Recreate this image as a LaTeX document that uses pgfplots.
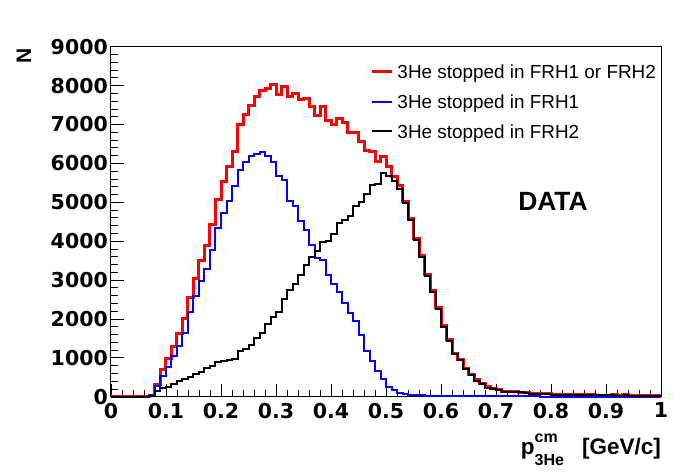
\documentclass[border=0pt]{standalone}
\usepackage{pgfplots}
\usepackage{pgfplotstable}
\pgfplotsset{compat=1.18}
\usepackage{fontspec}
\setmainfont{Liberation Sans}
\newfontfamily\dejavu{DejaVu Sans}

\pgfplotstableread{
x red blue black
0.00 0 0 0
0.01 0 0 0
0.02 0 0 0
0.03 0 0 0
0.04 0 0 0
0.05 0 0 0
0.06 0 0 0
0.07 40 50 25
0.08 326 275 150
0.09 704 540 215
0.10 987 773 250
0.11 1288 1047 326
0.12 1623 1313 412
0.13 2009 1631 450
0.14 2558 2189 500
0.15 3048 2601 580
0.16 3490 2988 640
0.17 3880 3279 750
0.18 4438 3777 800
0.19 5082 4335 890
0.20 5537 4722 930
0.21 5924 5022 950
0.22 6310 5409 960
0.23 6997 5838 1185
0.24 7254 6027 1228
0.25 7486 6181 1331
0.26 7727 6250 1502
0.27 7881 6284 1648
0.28 7915 6198 1863
0.29 8027 6027 2043
0.30 7769 5666 2189
0.31 7984 5560 2525
0.32 7727 5030 2748
0.33 7795 4905 2898
0.34 7640 4530 3134
0.35 7658 4293 3391
0.36 7452 3900 3598
0.37 7228 3570 3735
0.38 7469 3520 3985
0.39 7108 3134 3992
0.40 6997 2898 4190
0.41 7143 2704 4464
0.42 7040 2420 4545
0.43 6782 2155 4650
0.44 6782 1958 4893
0.45 6568 1580 5005
0.46 6336 1180 5200
0.47 6310 919 5451
0.48 6052 650 5477
0.49 6181 465 5752
0.50 5924 240 5666
0.51 5666 160 5545
0.52 5434 108 5350
0.53 5020 60 4990
0.54 4576 45 4533
0.55 4060 40 4018
0.56 3620 35 3580
0.57 3130 30 3108
0.58 2730 25 2705
0.59 2290 25 2258
0.60 1820 20 1786
0.61 1460 20 1443
0.62 1120 20 1100
0.63 965 15 945
0.64 725 15 704
0.65 580 15 558
0.66 430 15 413
0.67 340 12 318
0.68 250 12 232
0.69 205 10 189
0.70 185 10 172
0.71 145 10 129
0.72 140 10 129
0.73 125 10 112
0.74 120 8 110
0.75 100 8 86
0.76 85 8 70
0.77 80 8 69
0.78 75 5 65
0.79 70 5 62
0.80 60 5 55
0.81 55 5 50
0.82 55 5 50
0.83 50 5 45
0.84 50 5 45
0.85 45 5 40
0.86 45 5 40
0.87 45 5 40
0.88 40 5 35
0.89 40 5 35
0.90 40 5 35
0.91 60 5 55
0.92 30 5 28
0.93 45 5 40
0.94 20 5 18
0.95 20 5 15
0.96 20 5 15
0.97 20 5 15
0.98 20 5 15
0.99 20 5 15
1.00 20 5 15
}\histdata

\begin{document}
\begin{tikzpicture}
\path[use as bounding box] (-111pt,-75.3pt) rectangle (585pt,396.7pt);
\begin{axis}[
  at={(0pt,0pt)}, anchor=south west,
  scale only axis, width=550pt, height=350pt,
  xmin=0, xmax=1, ymin=0, ymax=9000,
  clip=false,
  axis line style={line width=1pt},
  xtick={0,0.1,0.2,0.3,0.4,0.5,0.6,0.7,0.8,0.9,1},
  xticklabels={0,0.1,0.2,0.3,0.4,0.5,0.6,0.7,0.8,0.9,1},
  ytick={0,1000,2000,3000,4000,5000,6000,7000,8000,9000},
  minor x tick num=4, minor y tick num=4,
  tick pos=left, tick align=inside,
  major tick length=13pt, minor tick length=7pt,
  tick style={line width=0.8pt, black},
  scaled y ticks=false,
  /pgf/number format/1000 sep={},
  /pgf/number format/assume math mode=true,
  ticklabel style={font=\dejavu\bfseries\fontsize{20.5}{24}\selectfont, inner sep=0pt},
  xticklabel style={yshift=-6pt},
  yticklabel style={xshift=-3pt},
  xlabel={p\raisebox{12pt}{\rlap{\fontsize{16}{16}\selectfont cm}}\raisebox{-11pt}{\fontsize{16}{16}\selectfont 3He}\hspace{18pt}[GeV/c]},
  xlabel style={at={(axis description cs:1,0)}, anchor=base east, yshift=-57.3pt, inner sep=0pt, font=\bfseries\fontsize{22.5}{27}\selectfont},
  ylabel={N},
  ylabel style={at={(axis description cs:0,1)}, anchor=center, xshift=-8.8pt, yshift=87pt, inner sep=0pt, font=\bfseries\fontsize{21}{24}\selectfont},
  legend image code/.code={\draw[#1] (0pt,0pt) -- (20.7pt,0pt);},
  legend cell align=left,
  legend style={draw=none, fill=none, inner sep=0pt,
    at={(rel axis cs:0.4709,0.948)}, anchor=north west,
    font=\fontsize{18.9}{22}\selectfont,
    nodes={inner sep=0pt, text height=13.6pt, text depth=0pt},
    row sep=16.1pt,
    /tikz/every odd column/.append style={column sep=3.6pt}},
]
\addplot[const plot, red, line width=3pt] table[x=x, y=red] {\histdata};
\addlegendentry{3He stopped in FRH1 or FRH2}
\addplot[const plot, blue, line width=2pt] table[x=x, y=blue] {\histdata};
\addlegendentry{3He stopped in FRH1}
\addplot[const plot, black, line width=2pt] table[x=x, y=black] {\histdata};
\addlegendentry{3He stopped in FRH2}
\node[font=\bfseries\fontsize{26.4}{30}\selectfont, inner sep=0pt] at (axis cs:0.8036,5014) {DATA};
\end{axis}
\end{tikzpicture}
\end{document}
